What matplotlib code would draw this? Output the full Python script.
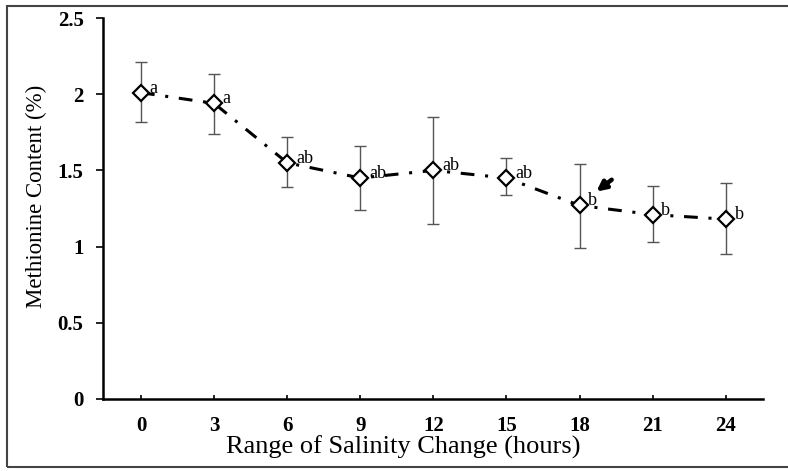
import matplotlib.pyplot as plt
from matplotlib.patches import Rectangle

hours = [0, 3, 6, 9, 12, 15, 18, 21, 24]
methionine = [2.01, 1.94, 1.55, 1.45, 1.50, 1.45, 1.27, 1.21, 1.18]
err_low = [0.19, 0.20, 0.16, 0.21, 0.35, 0.11, 0.28, 0.18, 0.23]
err_high = [0.20, 0.19, 0.17, 0.21, 0.35, 0.13, 0.27, 0.19, 0.24]
letters = ["a", "a", "ab", "ab", "ab", "ab", "b", "b", "b"]

plt.rcParams['font.family'] = ['Liberation Serif', 'DejaVu Serif']

fig = plt.figure(figsize=(7.88, 4.71), dpi=100)
ax = fig.add_axes([103 / 788, 72 / 471, 660 / 788, 381 / 471])

pos = list(range(len(hours)))
ax.errorbar(pos, methionine, yerr=[err_low, err_high], fmt='none',
            ecolor='#555555', elinewidth=1.0, capsize=4, capthick=1.0, zorder=2)
ax.plot(pos, methionine, color='black', linestyle=(0, (4.5, 3.5, 1, 3.5)), linewidth=2.2,
        marker='D', markersize=8.5, markerfacecolor='white', markeredgecolor='black',
        markeredgewidth=1.6, zorder=3)

for x, y, s in zip(pos, methionine, letters):
    ax.text(x + 0.12, y + 0.03, s, fontsize=13, va='center', ha='left', zorder=4)

# arrow next to the 18 h point
ax.annotate('', xy=(6.2, methionine[6] + 0.08), xytext=(6.47, methionine[6] + 0.18),
            arrowprops=dict(arrowstyle='-|>', color='black', lw=3.2, mutation_scale=14))

ax.set_xlim(-0.52, 8.51)
ax.set_ylim(0, 2.5)
ax.set_xticks(pos)
ax.set_xticklabels([str(h) for h in hours])
ax.set_yticks([0, 0.5, 1, 1.5, 2, 2.5])
ax.set_yticklabels(['0', '0.5', '1', '1.5', '2', '2.5'])

for lab in ax.get_xticklabels() + ax.get_yticklabels():
    lab.set_fontweight('bold')
    lab.set_fontsize(15)

ax.tick_params(axis='x', direction='in', length=3, width=1.2, pad=12)
ax.tick_params(axis='y', direction='out', length=5, width=1.2, pad=9)

ax.spines['top'].set_visible(False)
ax.spines['right'].set_visible(False)
ax.spines['left'].set_linewidth(1.8)
ax.spines['bottom'].set_linewidth(1.8)

ax.set_xlabel('Range of Salinity Change (hours)', fontsize=19)
ax.set_ylabel('Methionine Content (%)', fontsize=16.5)
ax.xaxis.set_label_coords(0.455, -0.095)
ax.yaxis.set_label_coords(-0.085, 0.533)

fig.patches.append(Rectangle((7 / 788, 4 / 471), 790 / 788, 461 / 471, transform=fig.transFigure,
                             fill=False, edgecolor='#444444', linewidth=1.5))

fig.savefig('out.png', dpi=100)
